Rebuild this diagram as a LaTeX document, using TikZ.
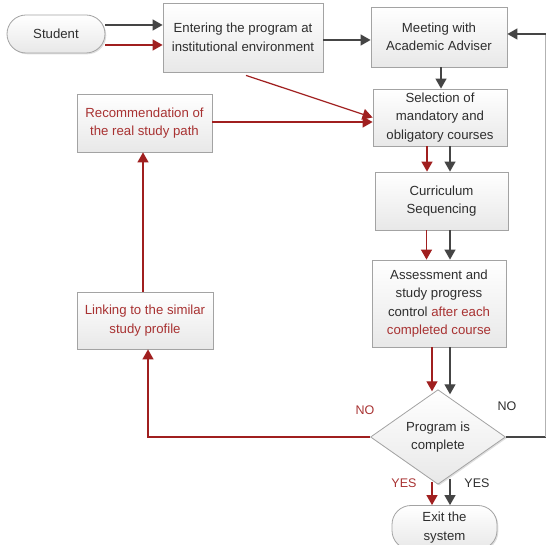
\documentclass[tikz,border=0pt]{standalone}
\usepackage{fontspec}
\setmainfont{Liberation Sans}
\usetikzlibrary{arrows.meta,shapes.geometric,shadows,calc}
\definecolor{dred}{HTML}{A01F1F}
\definecolor{tred}{HTML}{A83232}
\definecolor{dgray}{HTML}{454545}
\definecolor{bord}{HTML}{A3A3A3}
\begin{document}
\begin{tikzpicture}[x=1pt,y=-1pt,
  font=\fontsize{13.2}{18.5}\selectfont,
  box/.style={draw=bord, line width=0.8pt, top color=white, bottom color=black!9,
    drop shadow={shadow xshift=1.3pt,shadow yshift=-1.3pt,opacity=0.25},
    align=center, text=black!82, inner sep=1pt},
  term/.style={box, rounded corners=19pt},
  dia/.style={box, diamond, inner sep=0pt},
  ar/.style={-{Triangle[length=10pt,width=11pt]}, line width=1.2pt},
  rd/.style={ar, draw=dred, color=dred},
  gy/.style={ar, draw=dgray, color=dgray},
  lab/.style={font=\fontsize{12.5}{14}\selectfont}]
\useasboundingbox (0,0) rectangle (547,545);

\node[term, minimum width=98pt, minimum height=38pt] (stud) at (56,34) {Student};
\node[box, minimum width=160pt, minimum height=69pt] (enter) at (243,37.5) {Entering the program at\\institutional environment};
\node[box, minimum width=136pt, minimum height=60pt] (meet) at (439,37) {Meeting with\\Academic Adviser};
\node[box, minimum width=134pt, minimum height=57pt] (sel) at (440,117.5) {Selection of\\mandatory and\\obligatory courses};
\node[box, minimum width=135pt, minimum height=58pt, text=tred] (rec) at (144.5,123) {Recommendation of\\the real study path};
\node[box, minimum width=133pt, minimum height=58pt] (cur) at (441.5,201) {Curriculum\\Sequencing};
\node[box, minimum width=134pt, minimum height=87pt] (ass) at (439,303.5) {Assessment and\\study progress\\control \textcolor{tred}{after each}\\\textcolor{tred}{completed course}};
\node[box, minimum width=136pt, minimum height=57pt, text=tred] (link) at (145,320.5) {Linking to the similar\\study profile};
\node[dia, minimum width=135pt, minimum height=66pt] (prog) at (438,437) {Program is\\complete};
\node[term, minimum width=105pt, minimum height=44pt] (exit) at (444.5,527.5) {Exit the\\system};

% helper coordinates
\coordinate (s1) at ($(stud.east)+(0,-9)$);
\coordinate (s2) at ($(stud.east)+(0,11)$);
\coordinate (e1) at ($(enter.east)+(0,2.5)$);
\coordinate (m1) at ($(meet.south)+(2,0)$);
\coordinate (d1) at ($(enter.south)+(3,3)$);
\coordinate (d2) at ($(sel.west)+(0,0)$);
\coordinate (r1) at ($(rec.east)+(0,-1)$);
\coordinate (c1) at ($(sel.south)+(-13,0)$);
\coordinate (c2) at ($(sel.south)+(10,0)$);
\coordinate (a1) at ($(cur.south)+(-15,0)$);
\coordinate (a2) at ($(cur.south)+(8.5,0)$);
\coordinate (p1) at ($(ass.south)+(-7,0)$);
\coordinate (p2) at ($(ass.south)+(11,0)$);
\coordinate (p1e) at ($(prog.north)+(-6,2)$);
\coordinate (p2e) at ($(prog.north)+(12,5)$);
\coordinate (x1) at ($(prog.south)+(-6,-3)$);
\coordinate (x2) at ($(prog.south)+(12,-6)$);
\coordinate (n1) at ($(link.south)+(3,0)$);
\coordinate (l1) at ($(link.north)+(-2,0)$);
\coordinate (rc1) at (545.5,437);
\coordinate (rc2) at (545.5,34);

% Student -> Entering
\draw[gy] (s1) -- (s1 -| enter.west);
\draw[rd] (s2) -- (s2 -| enter.west);
% Entering -> Meeting
\draw[gy] (e1) -- (e1 -| meet.west);
% Meeting -> Selection
\draw[gy] (m1) -- (m1 |- sel.north);
% Entering -> Selection (diagonal)
\draw[rd] (d1) -- (d2);
% Recommendation -> Selection
\draw[rd] (r1) -- (r1 -| sel.west);
% Selection -> Curriculum
\draw[rd] (c1) -- (c1 |- cur.north);
\draw[gy] (c2) -- (c2 |- cur.north);
% Curriculum -> Assessment
\draw[rd] (a1) -- (a1 |- ass.north);
\draw[gy] (a2) -- (a2 |- ass.north);
% Assessment -> Diamond
\draw[rd] (p1) -- (p1e);
\draw[gy] (p2) -- (p2e);
% Diamond -> Exit
\draw[rd] (x1) -- (x1 |- exit.north);
\draw[gy] (x2) -- (x2 |- exit.north);
% NO left -> Linking
\draw[rd] (prog.west) -- (prog.west -| n1) -- (n1);
% Linking -> Recommendation
\draw[rd] (l1) -- (l1 |- rec.south);
% NO right -> Meeting
\draw[dgray, line width=1.1pt] (prog.east) -- (rc1);
\draw[black!30, line width=0.9pt] (rc1) -- (rc2);
\draw[gy] (rc2) -- (rc2 -| meet.east);

% labels
\node[lab, text=tred] (no1) at (365,410) {NO};
\node[lab, text=black!82] (no2) at (507,406) {NO};
\node[lab, text=tred] (yes1) at (404,483) {YES};
\node[lab, text=black!82] (yes2) at (477,483) {YES};
\end{tikzpicture}
\end{document}
